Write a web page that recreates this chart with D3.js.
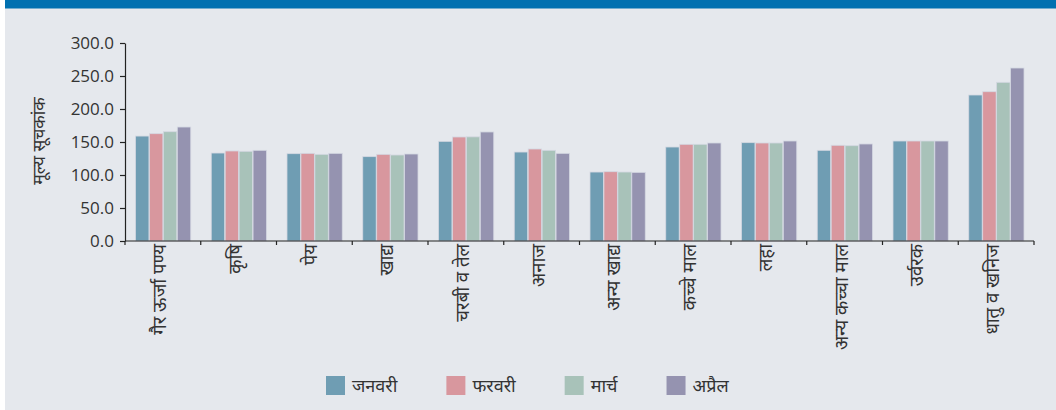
<!DOCTYPE html>
<html>
<head>
<meta charset="utf-8">
<script src="https://cdn.jsdelivr.net/npm/d3@7"></script>
<style>
  html, body { margin: 0; padding: 0; background: #ffffff; }
  svg { display: block; }
  text { font-family: "Noto Sans", "Open Sans", "DejaVu Sans", sans-serif; fill: #333; }
</style>
</head>
<body>
<svg id="chart" width="1056" height="410"></svg>
<script>
const categories = ["गैर ऊर्जा पण्य", "कृषि", "पेय", "खाद्य", "चरबी व तेल", "अनाज", "अन्य खाद्य", "कच्चे माल", "लहा", "अन्य कच्चा माल", "उर्वरक", "धातु व खनिज"];
const seriesNames = ["जनवरी", "फरवरी", "मार्च", "अप्रैल"];
const january  = [159.0, 133.3, 132.3, 127.8, 151.0, 134.8, 104.5, 142.4, 149.0, 137.4, 151.5, 221.2];
const february = [162.6, 136.4, 132.8, 131.3, 157.6, 139.4, 105.0, 146.5, 148.5, 145.0, 151.5, 226.2];
const march    = [165.6, 135.9, 131.3, 130.3, 157.8, 137.4, 104.5, 146.5, 148.5, 144.4, 151.5, 240.4];
const april    = [172.7, 137.4, 132.8, 131.8, 165.2, 132.8, 104.0, 148.5, 151.5, 147.0, 151.5, 262.1];
const yTicks = [0, 50, 100, 150, 200, 250, 300];
const yTitle = "मूल्य सूचकांक";
const colors = ["#6f9db3", "#d8979e", "#a8c2b9", "#9593b0"];

const series = [january, february, march, april];

const svg = d3.select("#chart");
svg.append("rect").attr("x", 5).attr("y", 0).attr("width", 1051).attr("height", 410).attr("fill", "#e5e8ed");
svg.append("rect").attr("x", 5).attr("y", 0).attr("width", 1051).attr("height", 8.5).attr("fill", "#0070b0");

const mLeft = 125, mRight = 1034, mTop = 43, mBottom = 241;

const x0 = d3.scaleBand().domain(categories).range([mLeft, mRight]).paddingInner(0).paddingOuter(0);
const x1 = d3.scaleBand().domain(seriesNames).range([10, x0.bandwidth() - 10]).padding(0);
const y = d3.scaleLinear().domain([0, 300]).range([mBottom, mTop]);

const groups = svg.append("g").selectAll("g").data(categories).join("g")
  .attr("transform", d => `translate(${x0(d)},0)`);
groups.selectAll("rect")
  .data((c, i) => seriesNames.map((s, j) => ({ s, j, v: series[j][i] })))
  .join("rect")
  .attr("x", d => x1(d.s) + 0.5)
  .attr("width", x1.bandwidth() - 0.5)
  .attr("y", d => y(d.v))
  .attr("height", d => y(0) - y(d.v))
  .attr("fill", d => colors[d.j])
  .attr("stroke", "#d4d8e2")
  .attr("stroke-width", 0.8);

const yAxis = svg.append("g").attr("transform", `translate(${mLeft},0)`)
  .call(d3.axisLeft(y).tickValues(yTicks).tickFormat(d3.format(".1f")).tickSize(5).tickSizeOuter(0));
yAxis.select(".domain").attr("stroke", "#222").attr("stroke-width", 1.2);
yAxis.selectAll(".tick line").attr("stroke", "#222").attr("stroke-width", 1.2);
yAxis.selectAll(".tick text").attr("font-size", 17).attr("fill", "#333")
  .style("font-family", "'Open Sans', 'Noto Sans', sans-serif").attr("x", -11).attr("dy", "0.34em");

const xAxisG = svg.append("g").attr("transform", `translate(0,${mBottom})`);
xAxisG.append("line").attr("x1", mLeft).attr("x2", mRight).attr("stroke", "#222").attr("stroke-width", 1.2);
const bounds = d3.range(categories.length + 1).map(i => mLeft + i * x0.step());
xAxisG.selectAll("line.tk").data(bounds).join("line").attr("class", "tk")
  .attr("x1", d => d).attr("x2", d => d).attr("y1", 0).attr("y2", 4)
  .attr("stroke", "#222").attr("stroke-width", 1.2);

svg.append("g").selectAll("text").data(categories).join("text")
  .attr("transform", d => `translate(${x0(d) + x0.bandwidth() / 2 + 3},${mBottom + 3}) rotate(-90)`)
  .attr("text-anchor", "end")
  .attr("font-size", 18.5)
  .text(d => d);

svg.append("text")
  .attr("transform", `translate(45,141) rotate(-90)`)
  .attr("text-anchor", "middle")
  .attr("font-size", 17.5)
  .text(yTitle);

const legend = svg.append("g").attr("transform", "translate(326,376)");
let lx = 0;
seriesNames.forEach((s, j) => {
  const g = legend.append("g").attr("transform", `translate(${lx},0)`);
  g.append("rect").attr("width", 19).attr("height", 19).attr("fill", colors[j]);
  const t = g.append("text").attr("x", 26).attr("y", 16).attr("font-size", 18).attr("fill", "#444").text(s);
  const w = t.node().getComputedTextLength();
  lx += 26 + w + 49;
});
</script>
</body>
</html>
